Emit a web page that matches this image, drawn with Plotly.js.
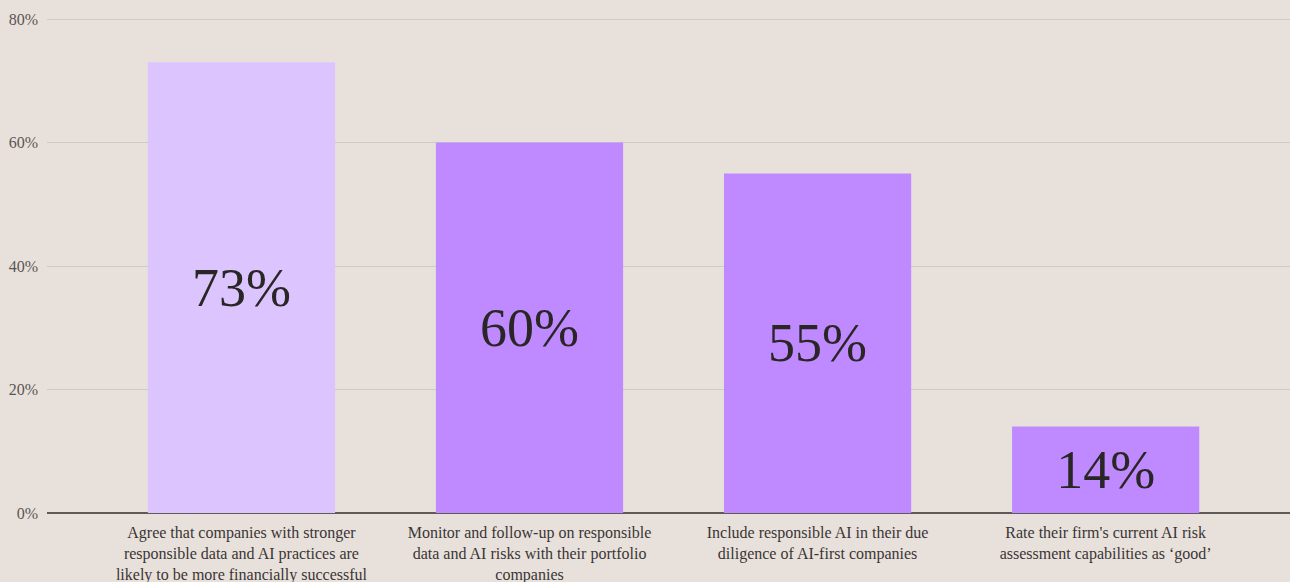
<!DOCTYPE html>
<html>
<head>
<meta charset="utf-8">
<script src="https://cdn.plot.ly/plotly-3.0.1.min.js"></script>
<style>html,body{margin:0;padding:0;background:#e8e1db;}#chart{width:1290px;height:582px;}</style>
</head>
<body>
<div id="chart"></div>
<script>
const categories = [
  "Agree that companies with stronger<br>responsible data and AI practices are<br>likely to be more financially successful",
  "Monitor and follow-up on responsible<br>data and AI risks with their portfolio<br>companies",
  "Include responsible AI in their due<br>diligence of AI-first companies",
  "Rate their firm's current AI risk<br>assessment capabilities as ‘good’"
];
const values = [73, 60, 55, 14];
const barColors = ["#dcc5ff", "#bf8aff", "#bf8aff", "#bf8aff"];
const yTickVals = [0, 20, 40, 60, 80];
const yTickText = ["0%", "20%", "40%", "60%", "80%"];

const serif = "'Liberation Serif', 'DejaVu Serif', serif";

Plotly.newPlot("chart", [{
  type: "bar",
  x: [0, 1, 2, 3],
  y: values,
  width: 0.65,
  marker: {color: barColors},
  text: values.map(v => v + "%"),
  textposition: "inside",
  insidetextanchor: "middle",
  textangle: 0,
  textfont: {family: serif, size: 54, color: "#2b2626"},
  hoverinfo: "none"
}], {
  width: 1290, height: 582,
  paper_bgcolor: "#e8e1db",
  plot_bgcolor: "#e8e1db",
  margin: {l: 47, r: 0, t: 16, b: 69},
  showlegend: false,
  xaxis: {
    range: [-0.675, 3.64],
    tickvals: [0, 1, 2, 3],
    ticktext: categories,
    tickfont: {family: serif, size: 16, color: "#3a3535"},
    showgrid: false,
    zeroline: false,
    showline: false,
    automargin: false,
    ticklabelstandoff: 8,
    fixedrange: true
  },
  yaxis: {
    range: [0, 80.49],
    tickvals: yTickVals,
    ticktext: yTickText,
    tickfont: {family: serif, size: 16, color: "#5a5555"},
    showgrid: true,
    gridcolor: "#cdcac8",
    gridwidth: 1,
    zeroline: true,
    zerolinecolor: "#5f5a58",
    zerolinewidth: 2,
    automargin: false,
    ticklabelstandoff: 8,
    fixedrange: true
  }
}, {displayModeBar: false, staticPlot: true});
</script>
</body>
</html>
